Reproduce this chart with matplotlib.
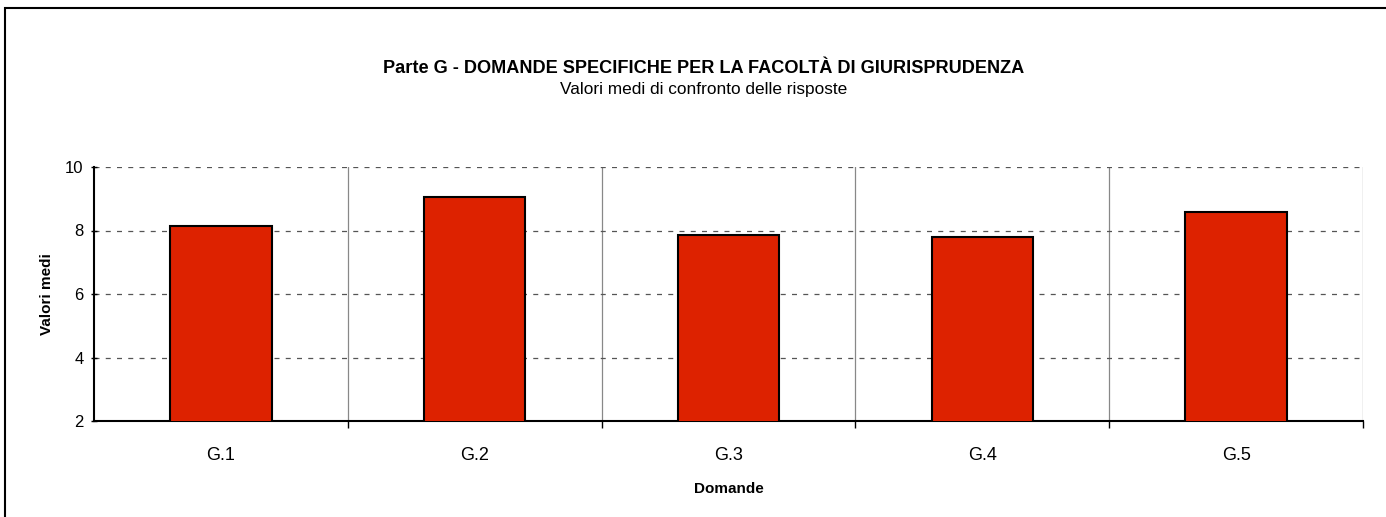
import matplotlib.pyplot as plt
from matplotlib.patches import Rectangle
from matplotlib.ticker import FixedLocator, NullFormatter

plt.rcParams['font.family'] = ['Liberation Sans', 'DejaVu Sans']

# data
domande = ["G.1", "G.2", "G.3", "G.4", "G.5"]
valori_medi = [8.14, 9.06, 7.86, 7.80, 8.57]
y_ticks = [2, 4, 6, 8, 10]

fig = plt.figure(figsize=(13.86, 5.17), dpi=100)
ax = fig.add_axes([94 / 1386, 1 - 421 / 517, (1363 - 94) / 1386, (421 - 167) / 517])

x = list(range(len(domande)))
ax.bar(x, valori_medi, width=0.4, bottom=0, color="#DD2200", edgecolor="black", linewidth=1.5, zorder=3)

ax.set_xlim(-0.5, len(domande) - 0.5)
ax.set_ylim(2, 10)
ax.set_yticks(y_ticks)
ax.set_xticks(x)
ax.set_xticklabels(domande, fontsize=13)
ax.xaxis.set_minor_locator(FixedLocator([i + 0.5 for i in range(len(domande))]))
ax.xaxis.set_minor_formatter(NullFormatter())
ax.tick_params(axis="x", which="major", length=0, pad=19)
ax.tick_params(axis="x", which="minor", length=5, direction="out", width=1)
ax.tick_params(axis="y", length=5, direction="inout", width=1, labelsize=12, pad=5)

# gridlines
ax.grid(axis="y", linestyle=(0, (4, 5)), color="#555555", linewidth=0.9, zorder=0)
ax.grid(axis="x", which="minor", linestyle="-", color="#888888", linewidth=0.9, zorder=0)

for s in ["top", "right"]:
    ax.spines[s].set_visible(False)
ax.spines["left"].set_linewidth(1.5)
ax.spines["bottom"].set_linewidth(1.5)

ax.set_ylabel("Valori medi", fontsize=11, fontweight="bold", labelpad=8)
ax.set_xlabel("Domande", fontsize=11, fontweight="bold", labelpad=12.5)

fig.text(0.508, 1 - 73 / 517, "Parte G - DOMANDE SPECIFICHE PER LA FACOLTÀ DI GIURISPRUDENZA",
         ha="center", va="baseline", fontsize=13.1, fontweight="bold")
fig.text(0.508, 1 - 94 / 517, "Valori medi di confronto delle risposte",
         ha="center", va="baseline", fontsize=12.4)

# outer chart border
fig.add_artist(Rectangle((5 / 1386, -0.1), 1.2, 1.1 - 8 / 517, transform=fig.transFigure,
                         fill=False, edgecolor="black", linewidth=1.5))

fig.savefig("out.png", dpi=100)
